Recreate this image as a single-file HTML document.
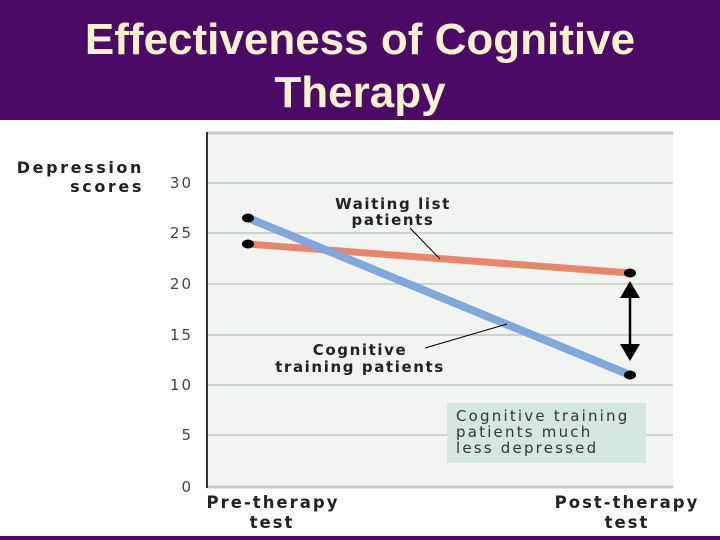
<!DOCTYPE html>
<html><head><meta charset="utf-8"><style>
body{margin:0;width:720px;height:540px;background:#fff;overflow:hidden;position:relative;font-family:"DejaVu Sans","Liberation Sans",sans-serif}
.hdr{position:absolute;left:0;top:0;width:720px;height:120px;background:#4b0a66;color:#f7f1cc;font-family:"Liberation Sans",sans-serif;font-weight:bold;font-size:44px;text-align:center;line-height:53px;padding-top:13px;box-sizing:border-box}
.bot{position:absolute;left:0;top:536px;width:720px;height:4px;background:#4b0a66}
</style></head><body>
<div class="hdr">Effectiveness of Cognitive<br>Therapy</div>
<svg width="720" height="540" style="position:absolute;left:0;top:0">
<rect x="207" y="132" width="466" height="355" fill="#f1f4f0"/>
<line x1="207" y1="133" x2="673" y2="133" stroke="#c8c8c8" stroke-width="3"/>
<g stroke="#c4c8c4" stroke-width="1.5">
<line x1="207" y1="183" x2="673" y2="183"/><line x1="207" y1="233" x2="673" y2="233"/>
<line x1="207" y1="284" x2="673" y2="284"/><line x1="207" y1="335" x2="673" y2="335"/>
<line x1="207" y1="385" x2="673" y2="385"/><line x1="207" y1="435" x2="673" y2="435"/>
</g>
<line x1="207" y1="487" x2="673" y2="487" stroke="#c8c8c8" stroke-width="3"/>
<line x1="207" y1="132" x2="207" y2="488" stroke="#333" stroke-width="2"/>
<g font-size="15" fill="#444" text-anchor="end" letter-spacing="2">
<text x="193" y="188">30</text><text x="193" y="238">25</text><text x="193" y="289">20</text>
<text x="193" y="340">15</text><text x="193" y="390">10</text><text x="193" y="440">5</text><text x="193" y="492">0</text></g>
<g font-size="16" fill="#222" font-weight="bold" text-anchor="end" letter-spacing="2.6">
<text x="144" y="173">Depression</text><text x="144" y="192">scores</text></g>
<rect x="447" y="403" width="199" height="60" fill="#d6e6e1"/>
<g font-size="15" fill="#333" letter-spacing="2.2"><text x="456" y="421">Cognitive training</text><text x="456" y="437">patients much</text><text x="456" y="453">less depressed</text></g>
<line x1="248" y1="244" x2="630" y2="273" stroke="#e8866a" stroke-width="7"/>
<line x1="248" y1="218" x2="630" y2="375" stroke="#7fa8dc" stroke-width="8"/>
<g fill="#000"><ellipse cx="248" cy="244" rx="6" ry="4.5"/><ellipse cx="248" cy="218" rx="6" ry="4.5"/>
<ellipse cx="630" cy="273" rx="6" ry="4.5"/><ellipse cx="630" cy="375" rx="6" ry="4.5"/>
<line x1="630" y1="290" x2="630" y2="348" stroke="#000" stroke-width="2.5"/>
<polygon points="630,281 620,298 640,298"/><polygon points="630,361 620,344 640,344"/></g>
<line x1="410" y1="228" x2="440" y2="259" stroke="#000" stroke-width="1"/>
<line x1="425" y1="348" x2="507" y2="324" stroke="#000" stroke-width="1"/>
<g font-size="15" font-weight="bold" fill="#222" text-anchor="middle" letter-spacing="1.6">
<text x="393" y="209">Waiting list</text><text x="393" y="225">patients</text>
<text x="360" y="355">Cognitive</text><text x="360" y="372">training patients</text>
<text x="273" y="508" font-size="16.5" letter-spacing="2">Pre-therapy</text><text x="272" y="528" font-size="16.5" letter-spacing="2">test</text>
<text x="627" y="508" font-size="16.5" letter-spacing="2">Post-therapy</text><text x="627" y="528" font-size="16.5" letter-spacing="2">test</text></g>
</svg>
<div class="bot"></div>
</body></html>
